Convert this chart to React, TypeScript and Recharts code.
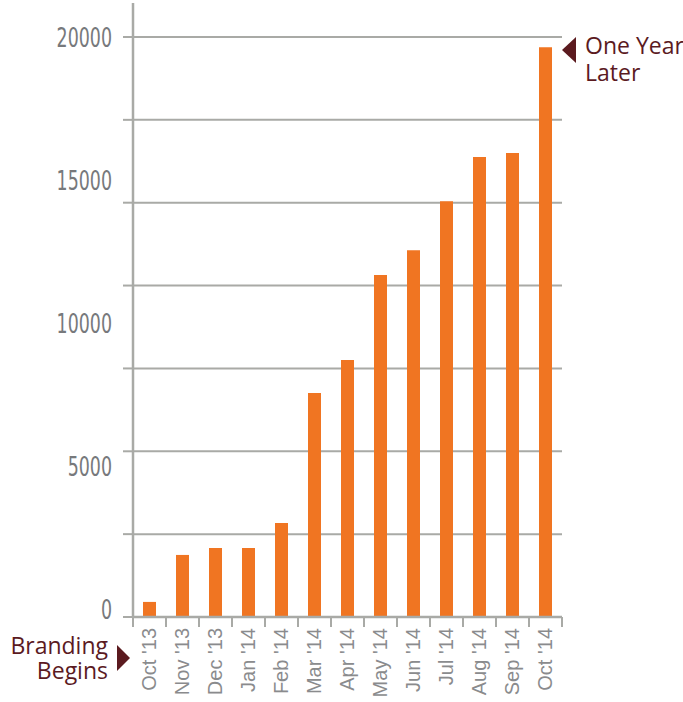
import React from 'react'
import { Bar, BarChart, CartesianGrid, XAxis, YAxis } from 'recharts'

// monthly values
const months = [
  "Oct '13",
  "Nov '13",
  "Dec '13",
  "Jan '14",
  "Feb '14",
  "Mar '14",
  "Apr '14",
  "May '14",
  "Jun '14",
  "Jul '14",
  "Aug '14",
  "Sep '14",
  "Oct '14",
]
const visitors = [520, 2140, 2380, 2380, 3240, 7720, 8860, 11790, 12650, 14340, 15860, 16000, 19650]

// the original grid splits 0..20000 into 7 parts, labels every 5000
const gridTicks = [0, 2857, 5714, 8571, 11429, 14286, 17143, 20000]
const labelTicks = [0, 5000, 10000, 15000, 20000]
const allTicks = Array.from(new Set([...gridTicks, ...labelTicks])).sort((a, b) => a - b)
const yMax = 21172

const W = 683
const H = 702
const margin = { top: 3, right: 121, bottom: 0, left: 13 }
const yAxisWidth = 120
const plotLeft = margin.left + yAxisWidth
const band = (W - margin.right - plotLeft) / months.length

const colors = {
  bar: '#f07522',
  grid: '#a9aaa6',
  axisText: '#77797c',
  tickText: '#8a8b8d',
  note: '#5b1a1f',
}

const data = months.map((m, i) => ({ month: m, value: visitors[i] }))

const MonthTick = ({ x, y, payload, index }: any) => {
  const left = x - band / 2
  const right = x + band / 2
  return (
    <g>
      <line x1={left} y1={y} x2={left} y2={y + 10} stroke={colors.grid} strokeWidth={2} />
      {index === months.length - 1 && (
        <line x1={right} y1={y} x2={right} y2={y + 10} stroke={colors.grid} strokeWidth={2} />
      )}
      <text
        transform={`translate(${x - 1},${y + 11}) rotate(-90)`}
        textAnchor="end"
        dominantBaseline="central"
        fill={colors.tickText}
        fontSize={20}
        fontFamily="'Liberation Sans', Arial, sans-serif"
      >
        {payload.value}
      </text>
    </g>
  )
}

// grid values get a tick mark, label values get text (labels drift a bit low near 0 in the original)
const ValueTick = ({ x, y, payload }: any) => {
  const v = payload.value
  const ty = y - 7.5 + (8 * v) / 20000
  return (
    <g>
      {gridTicks.includes(v) && (
        <line x1={x - 10} y1={y} x2={x} y2={y} stroke={colors.grid} strokeWidth={2} />
      )}
      {labelTicks.includes(v) && (
        // condensed look of the original font
        <text
          transform={`translate(${x - 21},${ty}) scale(0.745,1)`}
          textAnchor="end"
          dominantBaseline="central"
          fill={colors.axisText}
          fontSize={26}
          fontFamily="'DejaVu Sans Condensed', 'DejaVu Sans', sans-serif"
        >
          {v}
        </text>
      )}
    </g>
  )
}

export default function App() {
  return (
    <div style={{ position: 'absolute', left: 0, top: 0, width: W, height: H, background: '#fff' }}>
      <BarChart width={W} height={H} data={data} margin={margin}>
        <CartesianGrid
          vertical={false}
          horizontalValues={gridTicks}
          stroke={colors.grid}
          strokeWidth={2}
        />
        <XAxis
          dataKey="month"
          interval={0}
          height={85}
          tickSize={0}
          tickMargin={0}
          tickLine={false}
          axisLine={{ stroke: colors.grid, strokeWidth: 2.5 }}
          tick={<MonthTick />}
        />
        <YAxis
          domain={[0, yMax]}
          ticks={allTicks}
          interval={0}
          width={yAxisWidth}
          tickSize={0}
          tickMargin={0}
          tickLine={false}
          tick={<ValueTick />}
          axisLine={{ stroke: colors.grid, strokeWidth: 2.5 }}
        />
        <Bar dataKey="value" fill={colors.bar} barSize={13} isAnimationActive={false} />
      </BarChart>
      <svg
        width={W}
        height={H}
        style={{ position: 'absolute', left: 0, top: 0, pointerEvents: 'none' }}
        fontFamily="'Open Sans', 'Noto Sans', sans-serif"
        fontSize={23}
        fill={colors.note}
      >
        <text x={108} y={654} textAnchor="end">Branding</text>
        <text x={108} y={679} textAnchor="end">Begins</text>
        <polygon points="117,645 130,658 117,671" />
        <text x={585} y={54}>One Year</text>
        <text x={585} y={81}>Later</text>
        <polygon points="576,37 562,50 576,63" />
      </svg>
    </div>
  )
}
